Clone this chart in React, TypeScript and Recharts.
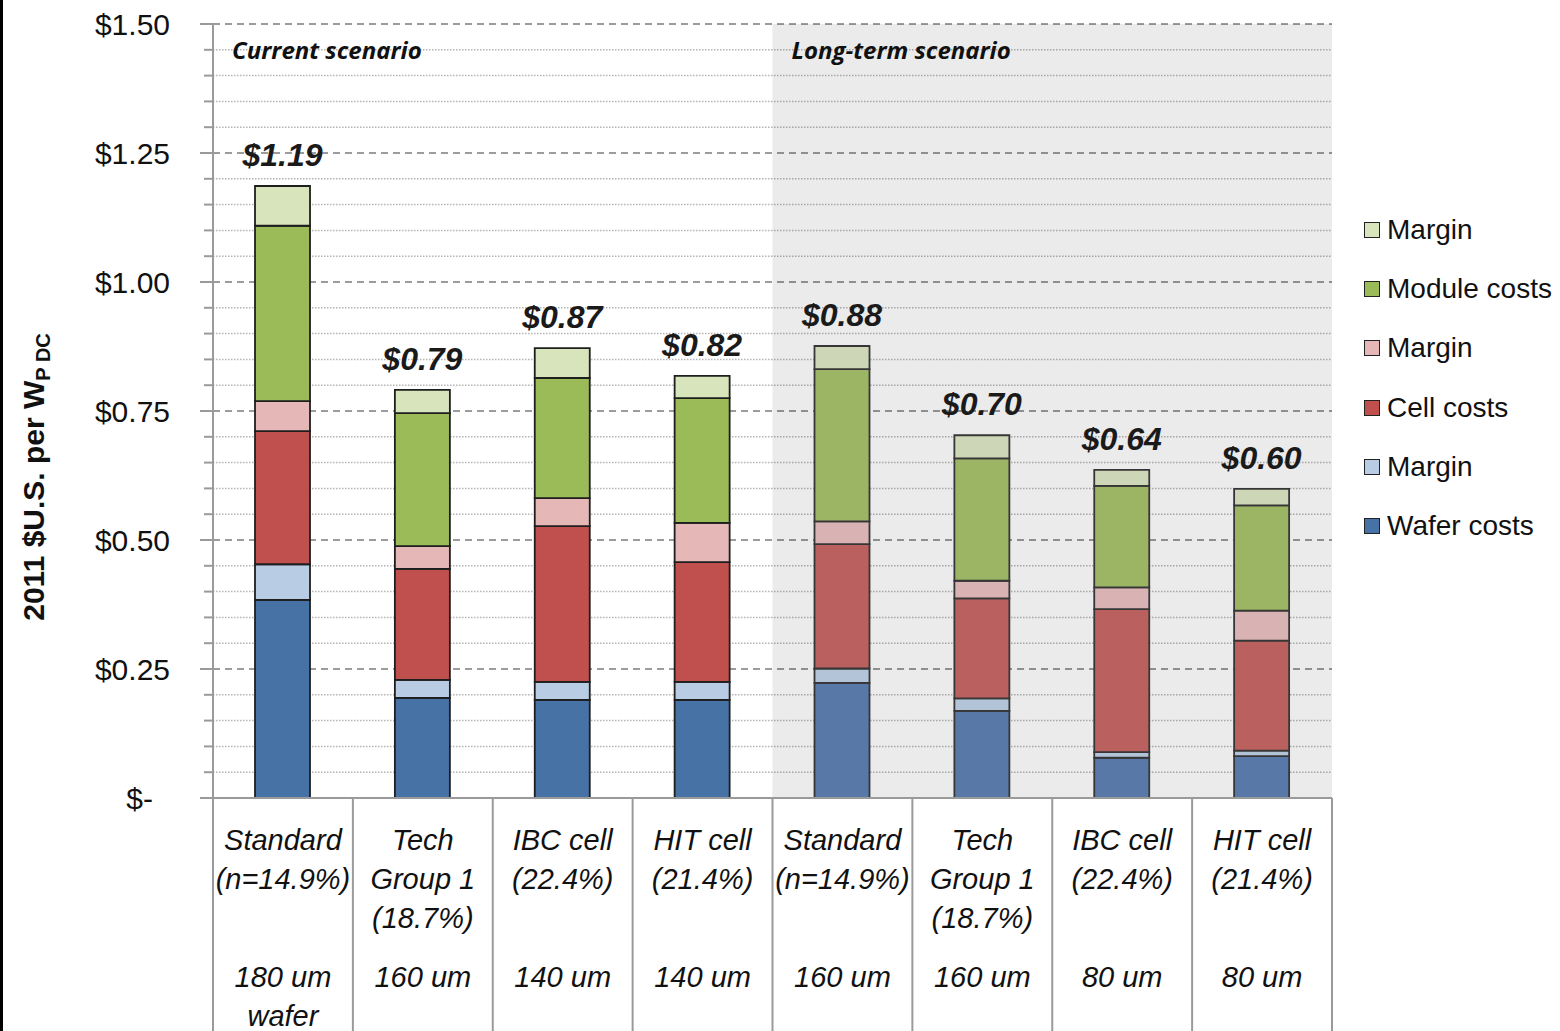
import {
  BarChart,
  Bar,
  XAxis,
  YAxis,
  CartesianGrid,
  ReferenceArea,
  Legend,
  LabelList,
  Cell,
} from 'recharts';

// 2011 $US per Wp(DC), cost build-up of c-Si modules
const categoryKeys = ['cur-std', 'cur-tg1', 'cur-ibc', 'cur-hit', 'lt-std', 'lt-tg1', 'lt-ibc', 'lt-hit'];
const techLines = [
  ['Standard', '(n=14.9%)'],
  ['Tech', 'Group 1', '(18.7%)'],
  ['IBC cell', '(22.4%)'],
  ['HIT cell', '(21.4%)'],
  ['Standard', '(n=14.9%)'],
  ['Tech', 'Group 1', '(18.7%)'],
  ['IBC cell', '(22.4%)'],
  ['HIT cell', '(21.4%)'],
];
const waferLines = [['180 um', 'wafer'], ['160 um'], ['140 um'], ['140 um'], ['160 um'], ['160 um'], ['80 um'], ['80 um']];
const scenario = ['current', 'current', 'current', 'current', 'long', 'long', 'long', 'long'];

const waferCost = [0.384, 0.194, 0.19, 0.19, 0.223, 0.169, 0.078, 0.081];
const waferMargin = [0.069, 0.035, 0.035, 0.035, 0.028, 0.024, 0.011, 0.011];
const cellCost = [0.258, 0.215, 0.302, 0.232, 0.241, 0.194, 0.277, 0.213];
const cellMargin = [0.058, 0.044, 0.054, 0.076, 0.044, 0.034, 0.042, 0.058];
const moduleCost = [0.34, 0.258, 0.233, 0.242, 0.295, 0.237, 0.197, 0.204];
const moduleMargin = [0.077, 0.045, 0.058, 0.043, 0.045, 0.045, 0.031, 0.032];

const yTicks = Array.from({ length: 31 }, (_, i) => (i * 5) / 100);

// bottom-to-top stacking order
const series = [
  { key: 'waferCost', name: 'Wafer costs', current: '#4672A5', long: '#5879A7' },
  { key: 'waferMargin', name: 'Margin', current: '#B8CCE4', long: '#B3C4D8' },
  { key: 'cellCost', name: 'Cell costs', current: '#C0504D', long: '#BA605E' },
  { key: 'cellMargin', name: 'Margin', current: '#E5B8B7', long: '#D9B3B3' },
  { key: 'moduleCost', name: 'Module costs', current: '#9BBB59', long: '#9BB565' },
  { key: 'moduleMargin', name: 'Margin', current: '#D7E4BC', long: '#CDD7B7' },
];
const seriesOrder = series.map((s) => s.key);

const data = categoryKeys.map((id, i) => ({
  id,
  waferCost: waferCost[i],
  waferMargin: waferMargin[i],
  cellCost: cellCost[i],
  cellMargin: cellMargin[i],
  moduleCost: moduleCost[i],
  moduleMargin: moduleMargin[i],
  total: waferCost[i] + waferMargin[i] + cellCost[i] + cellMargin[i] + moduleCost[i] + moduleMargin[i],
}));

const FONT = '"Liberation Sans", Arial, sans-serif';
const AXIS_GRAY = '#9a9a9a';

const isMajor = (v: number) => Math.round(v * 100) % 25 === 0;

function MoneyTick(props: any) {
  const { x, y, payload } = props;
  const v = payload.value as number;
  const major = isMajor(v);
  return (
    <g>
      <line x1={x - (major ? 13 : 9)} x2={x} y1={y} y2={y} stroke={AXIS_GRAY} strokeWidth={2} />
      {major && (
        <text
          x={v === 0 ? x - 60 : x - 43}
          y={y}
          dy="0.36em"
          textAnchor="end"
          fontSize={30}
          fontFamily={FONT}
          fill="#111"
        >
          {v === 0 ? '$-' : `$${v.toFixed(2)}`}
        </text>
      )}
    </g>
  );
}

function CategoryTick(props: any) {
  const { x, y, payload, index } = props;
  const half = payload.offset || 70;
  const last = index === categoryKeys.length - 1;
  return (
    <g>
      <line x1={x - half} x2={x - half} y1={y} y2={y + 240} stroke={AXIS_GRAY} strokeWidth={2} />
      {last && <line x1={x + half} x2={x + half} y1={y} y2={y + 240} stroke={AXIS_GRAY} strokeWidth={2} />}
      <text textAnchor="middle" fontSize={29} fontStyle="italic" fontFamily={FONT} fill="#111">
        {techLines[index].map((t, k) => (
          <tspan key={`t${k}`} x={x} y={y + 52 + k * 39}>
            {t}
          </tspan>
        ))}
        {waferLines[index].map((t, k) => (
          <tspan key={`w${k}`} x={x} y={y + 189 + k * 39}>
            {t}
          </tspan>
        ))}
      </text>
    </g>
  );
}

function GridLine(props: any) {
  const { x1, x2, y1, index } = props;
  const major = index % 5 === 0;
  return (
    <line
      key={`g-${index}`}
      x1={x1}
      x2={x2}
      y1={y1}
      y2={y1}
      stroke={major ? '#9c9c9c' : '#b4b4b4'}
      strokeWidth={major ? 2 : 1.5}
      strokeDasharray={major ? '7 5' : '1.5 1.5'}
    />
  );
}

function AxisTitle() {
  const cx = 44;
  const cy = 477;
  return (
    <text
      x={cx}
      y={cy}
      transform={`rotate(-90, ${cx}, ${cy})`}
      textAnchor="middle"
      fontSize={30}
      fontWeight="bold"
      fontFamily={FONT}
      fill="#111"
    >
      2011 $U.S. per W
      <tspan fontSize={20} dy={6}>
        P DC
      </tspan>
    </text>
  );
}

function ScenarioLabel(text: string) {
  return (props: any) => {
    const vb = props.viewBox;
    return (
      <text
        x={vb.x + 19}
        y={vb.y + 35}
        fontSize={24}
        fontWeight="bold"
        fontStyle="italic"
        fontFamily='"Open Sans", sans-serif'
        fill="#111"
      >
        {text}
      </text>
    );
  };
}

function TotalLabel(props: any) {
  const { x, y, width, value } = props;
  return (
    <text
      x={x + width / 2}
      y={y - 20}
      textAnchor="middle"
      fontSize={32}
      fontWeight="bold"
      fontStyle="italic"
      fontFamily={FONT}
      fill="#1a1a1a"
    >
      {`$${Number(value).toFixed(2)}`}
    </text>
  );
}

// top of the stack listed first
function StackLegend(props: any) {
  const items = [...(props.payload ?? [])].sort(
    (a: any, b: any) => seriesOrder.indexOf(b.dataKey) - seriesOrder.indexOf(a.dataKey),
  );
  return (
    <div>
      {items.map((it: any, i: number) => (
        <div key={i} style={{ display: 'flex', alignItems: 'center', height: 59.3 }}>
          <span
            style={{
              width: 14,
              height: 14,
              background: it.color,
              border: '1.5px solid #222',
              display: 'inline-block',
            }}
          />
          <span style={{ marginLeft: 7, fontSize: 28, fontFamily: FONT, color: '#111' }}>{it.value}</span>
        </div>
      ))}
    </div>
  );
}

export default function App() {
  return (
    <div
      style={{
        position: 'absolute',
        left: 0,
        top: 0,
        width: 1560,
        height: 1031,
        background: '#fff',
        boxShadow: 'inset 3px 0 0 #000',
        overflow: 'hidden',
      }}
    >
      <BarChart width={1560} height={1031} data={data} margin={{ top: 24, right: 228, bottom: 0, left: 0 }}>
        <CartesianGrid vertical={false} horizontal={GridLine} />
        <ReferenceArea
          x1="cur-std"
          x2="cur-hit"
          y1={0}
          y2={1.5}
          fill="#fff"
          fillOpacity={0}
          stroke="none"
          label={ScenarioLabel('Current scenario')}
        />
        <ReferenceArea
          x1="lt-std"
          x2="lt-hit"
          y1={0}
          y2={1.5}
          fill="#000"
          fillOpacity={0.078}
          stroke="none"
          label={ScenarioLabel('Long-term scenario')}
        />
        <XAxis
          dataKey="id"
          interval={0}
          height={233}
          tickSize={0}
          tickMargin={0}
          tickLine={false}
          axisLine={{ stroke: AXIS_GRAY, strokeWidth: 2 }}
          tick={CategoryTick}
        />
        <YAxis
          width={213}
          domain={[0, 1.5]}
          ticks={yTicks}
          interval={0}
          tickSize={0}
          tickMargin={0}
          tickLine={false}
          axisLine={{ stroke: AXIS_GRAY, strokeWidth: 2 }}
          tick={MoneyTick}
          label={AxisTitle}
        />
        <Legend
          layout="vertical"
          align="center"
          verticalAlign="middle"
          wrapperStyle={{ left: 1364, top: 200, width: 196 }}
          content={StackLegend}
        />
        {series.map((s) => (
          <Bar
            key={s.key}
            dataKey={s.key}
            name={s.name}
            stackId="cost"
            fill={s.current}
            stroke="#222"
            strokeWidth={1.8}
            barSize={55}
            isAnimationActive={false}
          >
            {data.map((d, i) => (
              <Cell
                key={d.id}
                fill={scenario[i] === 'current' ? s.current : s.long}
                stroke={scenario[i] === 'current' ? '#1e1e1e' : '#363636'}
              />
            ))}
            {s.key === 'moduleMargin' && <LabelList dataKey="total" content={TotalLabel} />}
          </Bar>
        ))}
      </BarChart>
    </div>
  );
}
